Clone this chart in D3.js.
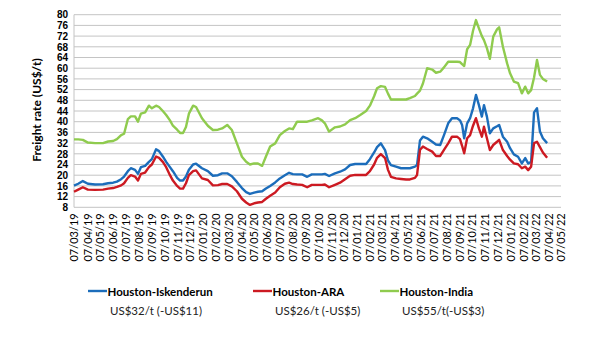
<!DOCTYPE html>
<html>
<head>
<meta charset="utf-8">
<script src="https://cdn.jsdelivr.net/npm/d3@7"></script>
<style>
  html, body { margin: 0; padding: 0; background: #fff; }
  svg { display: block; font-family: Lato, "Open Sans", sans-serif; }
</style>
</head>
<body>
<svg id="chart" width="590" height="337"></svg>
<script>
// Weekly-ish observation dates
const dates = [
  "2019-03-07","2019-03-17","2019-03-28","2019-04-09","2019-04-26","2019-05-15","2019-05-27","2019-06-08",
  "2019-06-17","2019-06-27","2019-07-04","2019-07-13","2019-07-20","2019-07-30","2019-08-06","2019-08-13",
  "2019-08-23","2019-09-01","2019-09-08","2019-09-18","2019-09-25","2019-10-04","2019-10-12","2019-10-21",
  "2019-10-28","2019-11-07","2019-11-14","2019-11-21","2019-11-28","2019-12-05","2019-12-15","2019-12-22",
  "2020-01-05","2020-01-19","2020-01-31","2020-02-12","2020-02-22","2020-03-05","2020-03-16","2020-03-28",
  "2020-04-09","2020-04-19","2020-04-28","2020-05-08","2020-05-17","2020-05-27","2020-06-05","2020-06-15",
  "2020-06-27","2020-07-08","2020-07-20","2020-07-30","2020-08-08","2020-08-18","2020-08-30","2020-09-11",
  "2020-09-22","2020-10-07","2020-10-16","2020-10-23","2020-11-02","2020-11-16","2020-11-28","2020-12-10",
  "2020-12-22","2021-01-03","2021-01-15","2021-01-29","2021-02-07","2021-02-17","2021-02-24","2021-03-05",
  "2021-03-15","2021-03-22","2021-03-29","2021-04-10","2021-04-22","2021-05-04","2021-05-13","2021-05-25",
  "2021-05-30","2021-06-06","2021-06-13","2021-06-23","2021-07-05","2021-07-14","2021-07-24","2021-08-02",
  "2021-08-12","2021-08-21","2021-09-02","2021-09-09","2021-09-14","2021-09-19","2021-09-26","2021-10-03",
  "2021-10-10","2021-10-17","2021-10-24","2021-10-31","2021-11-05","2021-11-12","2021-11-19","2021-11-27",
  "2021-12-06","2021-12-11","2021-12-20","2021-12-30","2022-01-06","2022-01-15","2022-01-25","2022-02-03",
  "2022-02-11","2022-02-18","2022-02-25","2022-03-04","2022-03-11","2022-03-18","2022-03-25","2022-04-04"
];

// Freight rates, US$/t
const iskenderun = [
  16.1,16.8,17.8,16.8,16.5,16.6,17.0,17.2, 17.6,18.5,19.5,21.5,22.6,22.0,20.5,23.0,
  23.5,25.0,26.0,29.7,29.0,27.0,25.0,23.0, 21.5,19.0,18.0,18.0,19.5,22.0,24.0,24.3,
  22.6,21.5,19.8,20.0,20.7,20.7,19.6,17.5, 15.2,13.7,13.0,13.5,13.8,14.0,15.0,16.0,
  17.3,18.8,20.0,20.9,20.4,20.3,20.3,19.4, 20.3,20.3,20.3,20.5,19.7,20.7,21.3,22.2,
  23.8,24.2,24.2,24.2,26.0,28.5,30.5,31.9, 29.4,25.5,23.8,23.2,22.6,22.6,22.6,23.2,
  23.8,33.0,34.4,33.8,32.5,31.5,31.3,35.0, 39.4,41.3,41.3,40.5,38.8,33.8,39.4,41.3,
  45.0,50.0,46.2,41.9,46.2,41.9,35.7,37.5, 38.3,38.8,34.4,32.5,30.1,27.8,26.9,24.4,
  26.4,24.4,25.0,43.5,45.0,36.3,33.8,32.0
];
const ara = [
  13.8,14.6,15.5,14.6,14.5,14.6,15.0,15.2, 15.6,16.2,17.0,19.0,20.0,19.5,18.0,20.5,
  21.0,23.0,24.0,27.0,26.5,25.0,23.0,20.0, 18.0,16.0,15.0,15.0,17.0,20.0,21.5,21.8,
  18.8,18.2,16.2,16.3,16.7,16.7,15.8,14.0, 11.2,9.8,8.9,9.5,9.8,10.0,11.2,12.3,
  13.5,15.5,16.8,17.2,16.7,16.5,16.4,15.5, 16.4,16.4,16.4,16.5,15.5,16.4,17.2,18.5,
  19.8,20.1,20.1,20.1,21.5,24.0,26.5,27.9, 26.4,22.0,19.4,18.8,18.6,18.4,18.4,19.0,
  20.1,29.5,30.7,29.8,28.8,27.2,27.2,29.5, 31.9,34.4,34.4,33.5,31.0,28.2,33.8,35.0,
  38.5,41.3,37.5,34.4,38.1,33.8,29.4,31.3, 32.5,33.2,29.4,27.2,25.8,24.4,24.1,22.6,
  23.2,21.9,23.2,32.0,32.5,30.5,28.5,26.5
];
const india = [
  33.4,33.4,33.2,32.2,32.0,32.0,32.6,32.8, 33.5,35.0,35.5,41.0,42.0,42.0,40.0,43.0,
  43.5,46.0,45.0,46.0,45.5,44.0,42.5,40.5, 38.5,37.0,35.8,35.8,38.0,43.0,46.0,45.5,
  41.3,38.5,36.9,37.0,37.5,38.8,36.9,31.9, 26.9,25.0,24.0,24.4,24.4,23.5,27.0,30.7,
  31.9,35.0,36.5,37.5,37.2,40.0,40.0,40.0, 40.5,41.3,40.5,39.4,36.3,37.9,38.2,39.0,
  40.6,41.3,42.5,44.0,46.0,49.5,52.5,53.3, 53.0,50.5,48.3,48.3,48.3,48.3,48.8,49.6,
  50.5,51.6,54.3,60.0,59.5,58.3,58.7,60.3, 62.4,62.4,62.4,62.3,61.5,60.8,67.1,68.7,
  74.0,78.0,74.9,72.0,70.5,67.5,63.5,71.8, 74.5,75.3,68.0,61.8,58.1,55.0,54.4,50.6,
  53.1,50.6,51.8,56.5,63.1,57.5,56.0,55.0
];

const yTicks = d3.range(8, 81, 4);
const axisStart = "2019-03-07";
const axisEnd = "2022-05-07";

const seriesNames = ["Houston-Iskenderun", "Houston-ARA", "Houston-India"];
const seriesNotes = ["US$32/t (-US$11)", "US$26/t (-US$5)", "US$55/t(-US$3)"];
const seriesColors = ["#1c6dbb", "#cc1a22", "#8fcb4e"];
const seriesValues = [iskenderun, ara, india];

const parse = d3.timeParse("%Y-%m-%d");
const svg = d3.select("#chart");

const x = d3.scaleTime()
  .domain([parse(axisStart), parse(axisEnd)])
  .range([74, 561]);
const y = d3.scaleLinear().domain([8, 80]).range([207.3, 14.7]);

// Horizontal gridlines
svg.append("g")
  .selectAll("line")
  .data(yTicks)
  .join("line")
  .attr("x1", 74).attr("x2", 561)
  .attr("y1", d => y(d)).attr("y2", d => y(d))
  .attr("stroke", "#c4c4c4")
  .attr("stroke-width", 1);

// Left axis line
svg.append("line")
  .attr("x1", 74).attr("x2", 74)
  .attr("y1", y(80)).attr("y2", y(8))
  .attr("stroke", "#c4c4c4");

// Y axis labels
const yAxis = d3.axisLeft(y).tickValues(yTicks).tickSize(0).tickPadding(6);
const gy = svg.append("g").attr("transform", "translate(74,0)").call(yAxis);
gy.select(".domain").remove();
gy.selectAll("text")
  .attr("font-family", "'Liberation Sans', Arial, sans-serif")
  .attr("font-size", 10)
  .attr("font-weight", "bold")
  .attr("fill", "#000");

// X axis labels, one per month on the 7th
const start = parse(axisStart), end = parse(axisEnd);
const monthTicks = d3.timeMonth.range(d3.timeMonth.floor(start), d3.timeMonth.offset(d3.timeMonth.floor(end), 1))
  .map(d => new Date(d.getFullYear(), d.getMonth(), 7));
const xAxis = d3.axisBottom(x).tickValues(monthTicks).tickSize(0).tickFormat(d3.timeFormat("%d/%m/%y"));
const gx = svg.append("g").attr("transform", "translate(0,207.3)").call(xAxis);
gx.select(".domain").remove();
gx.selectAll("text")
  .attr("font-family", "Lato, sans-serif")
  .attr("font-size", 11)
  .attr("fill", "#000")
  .attr("text-anchor", "end")
  .attr("transform", "rotate(-90)")
  .attr("x", -6)
  .attr("y", 0)
  .attr("dy", "0.36em");

// Y axis title
svg.append("text")
  .attr("transform", "translate(41,110) rotate(-90)")
  .attr("text-anchor", "middle")
  .attr("font-size", 12)
  .attr("font-weight", "bold")
  .attr("fill", "#000")
  .text("Freight rate (US$/t)");

// Series lines
const line = d3.line()
  .x((d, i) => x(parse(dates[i])))
  .y(d => y(d))
  .curve(d3.curveLinear);

seriesValues.forEach((vals, k) => {
  svg.append("path")
    .datum(vals)
    .attr("fill", "none")
    .attr("stroke", seriesColors[k])
    .attr("stroke-width", 2.4)
    .attr("stroke-linejoin", "round")
    .attr("d", line);
});

// Legend
const legendX = [88, 253, 380];
const legend = svg.append("g");
seriesNames.forEach((name, k) => {
  const lx = legendX[k];
  legend.append("line")
    .attr("x1", lx).attr("x2", lx + 19)
    .attr("y1", 291).attr("y2", 291)
    .attr("stroke", seriesColors[k])
    .attr("stroke-width", 2.4);
  legend.append("text")
    .attr("x", lx + 19.5).attr("y", 295.5)
    .attr("font-size", 11.5)
    .attr("font-weight", "bold")
    .attr("fill", "#000")
    .text(name);
  legend.append("text")
    .attr("x", lx + 22).attr("y", 314.5)
    .attr("font-size", 11.5)
    .attr("fill", "#222")
    .text(seriesNotes[k]);
});
</script>
</body>
</html>
